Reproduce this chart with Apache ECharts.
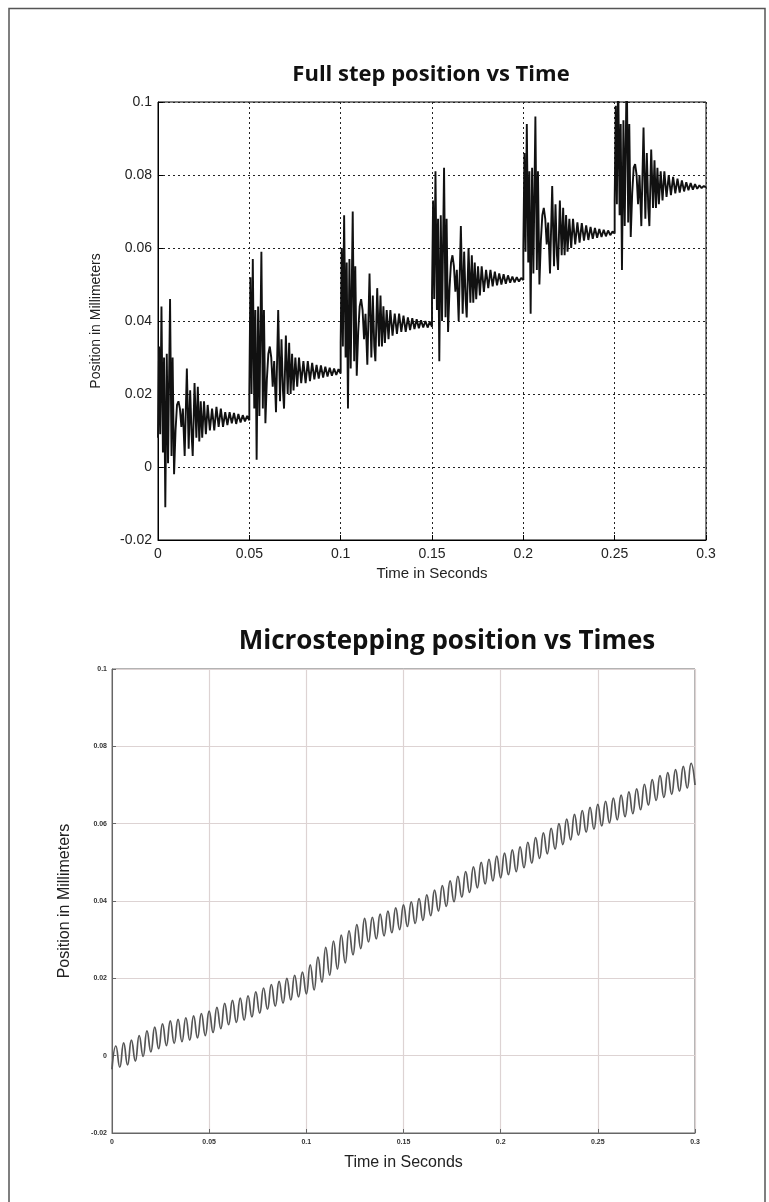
<!DOCTYPE html>
<html><head><meta charset="utf-8">
<script src="https://cdn.jsdelivr.net/npm/echarts@6/dist/echarts.min.js"></script>
<style>html,body{margin:0;padding:0;background:#fff}#c{width:769px;height:1202px}</style>
</head><body><div id="c"></div>
<script>
// ---------- Top chart: full step ----------
const stepStarts = [0, 0.05, 0.1, 0.15, 0.2, 0.25];
const stepOffsets = [0.0000,0.0006,0.0012,0.0019,0.0027,0.0033,0.0040,0.0048,0.0055,0.0066,0.0074,0.0080,0.0088,0.0096,0.0104,0.0112,0.0120,0.0128,0.0136,0.0146,0.0158,0.0168,0.0176,0.0184,0.0190,0.0200,0.0210,0.0218,0.0226,0.0234,0.0242,0.0252,0.0262,0.0272,0.0284,0.0296,0.0308,0.0320,0.0332,0.0344,0.0356,0.0368,0.0380,0.0392,0.0404,0.0416,0.0428,0.0440,0.0452,0.0464,0.0476,0.0488,0.0500];
const step1 = [0.008,0.033,0.009,0.044,0.004,0.030,-0.011,0.031,0.001,0.046,0.003,0.030,-0.002,0.010,0.017,0.018,0.016,0.011,0.016,0.003,0.027,0.005,0.021,0.009,0.003,0.023,0.008,0.022,0.007,0.018,0.008,0.018,0.009,0.017,0.010,0.016,0.010,0.0165,0.011,0.016,0.011,0.015,0.0115,0.015,0.012,0.0148,0.0118,0.0145,0.0122,0.0142,0.0125,0.014,0.0128];
const step2 = [0.021,0.052,0.020,0.057,0.016,0.043,0.002,0.044,0.014,0.059,0.016,0.043,0.012,0.024,0.031,0.033,0.030,0.022,0.029,0.015,0.043,0.018,0.035,0.021,0.016,0.036,0.020,0.034,0.020,0.031,0.021,0.030,0.022,0.030,0.023,0.029,0.023,0.029,0.0235,0.0285,0.024,0.028,0.0242,0.0278,0.0245,0.0275,0.0248,0.0272,0.025,0.027,0.0252,0.0268,0.0256];
const step3 = [0.034,0.060,0.033,0.069,0.030,0.056,0.016,0.057,0.027,0.070,0.029,0.055,0.025,0.037,0.044,0.046,0.043,0.035,0.042,0.028,0.053,0.030,0.047,0.033,0.029,0.049,0.033,0.047,0.033,0.044,0.034,0.043,0.035,0.043,0.036,0.042,0.0365,0.042,0.037,0.0415,0.037,0.041,0.0375,0.0408,0.0378,0.0405,0.038,0.0402,0.0382,0.040,0.0382,0.0398,0.0384];
const step4 = [0.047,0.073,0.046,0.081,0.043,0.068,0.029,0.069,0.040,0.082,0.041,0.068,0.037,0.049,0.056,0.058,0.055,0.048,0.054,0.040,0.066,0.042,0.059,0.046,0.041,0.060,0.045,0.058,0.045,0.056,0.046,0.055,0.047,0.055,0.048,0.054,0.049,0.054,0.0495,0.0535,0.0498,0.053,0.050,0.0528,0.0502,0.0525,0.0505,0.0522,0.0506,0.052,0.0508,0.0518,0.0512];
const step5 = [0.060,0.086,0.059,0.094,0.056,0.081,0.042,0.082,0.053,0.096,0.054,0.081,0.050,0.062,0.069,0.071,0.068,0.061,0.067,0.053,0.077,0.055,0.072,0.058,0.054,0.073,0.058,0.071,0.058,0.069,0.059,0.068,0.060,0.068,0.061,0.067,0.0615,0.0668,0.062,0.0662,0.0622,0.0658,0.0625,0.0655,0.0628,0.0652,0.063,0.065,0.0632,0.0648,0.0635,0.0645,0.064];
const step6 = [0.073,0.099,0.072,0.108,0.069,0.094,0.054,0.095,0.066,0.110,0.067,0.094,0.063,0.075,0.082,0.083,0.080,0.072,0.080,0.066,0.093,0.068,0.086,0.071,0.066,0.087,0.071,0.084,0.071,0.082,0.072,0.081,0.073,0.081,0.074,0.080,0.0745,0.0795,0.075,0.079,0.0752,0.0785,0.0755,0.078,0.0758,0.0778,0.076,0.0775,0.0762,0.0772,0.0764,0.077,0.0766];
const stepSegments = [step1, step2, step3, step4, step5, step6];

// ---------- Bottom chart: microstepping ----------
const microTimes = [0.000,0.002,0.004,0.006,0.008,0.010,0.012,0.014,0.016,0.018,0.020,0.022,0.024,0.026,0.028,0.030,0.032,0.034,0.036,0.038,0.040,0.042,0.044,0.046,0.048,0.050,0.052,0.054,0.056,0.058,0.060,0.062,0.064,0.066,0.068,0.070,0.072,0.074,0.076,0.078,0.080,0.082,0.084,0.086,0.088,0.090,0.092,0.094,0.096,0.098,0.100,0.102,0.104,0.106,0.108,0.110,0.112,0.114,0.116,0.118,0.120,0.122,0.124,0.126,0.128,0.130,0.132,0.134,0.136,0.138,0.140,0.142,0.144,0.146,0.148,0.150,0.152,0.154,0.156,0.158,0.160,0.162,0.164,0.166,0.168,0.170,0.172,0.174,0.176,0.178,0.180,0.182,0.184,0.186,0.188,0.190,0.192,0.194,0.196,0.198,0.200,0.202,0.204,0.206,0.208,0.210,0.212,0.214,0.216,0.218,0.220,0.222,0.224,0.226,0.228,0.230,0.232,0.234,0.236,0.238,0.240,0.242,0.244,0.246,0.248,0.250,0.252,0.254,0.256,0.258,0.260,0.262,0.264,0.266,0.268,0.270,0.272,0.274,0.276,0.278,0.280,0.282,0.284,0.286,0.288,0.290,0.292,0.294,0.296,0.298,0.300];
const microValues = [-0.0035,0.0025,-0.003,0.0033,-0.0024,0.004,-0.0014,0.0052,-0.0002,0.0064,0.001,0.0074,0.0018,0.0082,0.0026,0.009,0.0032,0.0094,0.0036,0.0098,0.004,0.0103,0.0046,0.0109,0.0052,0.0115,0.006,0.0125,0.007,0.0135,0.008,0.0143,0.0086,0.0149,0.0092,0.0155,0.010,0.0165,0.011,0.0175,0.012,0.0184,0.0128,0.0192,0.0136,0.020,0.0144,0.0208,0.0152,0.0216,0.016,0.0235,0.017,0.0255,0.019,0.028,0.0208,0.0296,0.0224,0.0312,0.024,0.0323,0.0261,0.0339,0.0277,0.0355,0.0294,0.0358,0.0302,0.0366,0.031,0.0374,0.0318,0.0382,0.0326,0.039,0.0334,0.0398,0.0342,0.0406,0.035,0.0416,0.0362,0.0428,0.0374,0.044,0.0386,0.0452,0.0398,0.0464,0.041,0.0476,0.0422,0.0488,0.0434,0.050,0.0444,0.0508,0.0452,0.0516,0.046,0.0524,0.0468,0.0532,0.0476,0.054,0.0486,0.0552,0.0498,0.0564,0.051,0.0576,0.0522,0.0588,0.0534,0.060,0.0546,0.0612,0.0558,0.0624,0.057,0.0634,0.0578,0.0642,0.0586,0.065,0.0594,0.0658,0.0602,0.0666,0.061,0.0674,0.0618,0.0682,0.0626,0.069,0.0636,0.0702,0.0648,0.0714,0.066,0.0724,0.0668,0.0732,0.0676,0.074,0.0684,0.0748,0.0692,0.0756,0.070];

const xTickInterval = 0.05;
const yTickInterval = 0.02;

const topData = [];
stepSegments.forEach((seg, k) => {
  seg.forEach((v, i) => topData.push([stepStarts[k] + stepOffsets[i], v]));
});
const microData = microTimes.map((t, i) => [t, microValues[i]]);

const chart = echarts.init(document.getElementById('c'), null, {renderer: 'canvas'});
const labelFont = {fontFamily: 'Liberation Sans', fontSize: 14, color: '#222'};
const smallFont = {fontFamily: 'Liberation Sans', fontSize: 7, fontWeight: 'bold', color: '#333'};

chart.setOption({
  backgroundColor: '#fff',
  animation: false,
  graphic: [
    {type: 'rect', shape: {x: 9, y: 8.5, width: 756, height: 1210}, style: {fill: 'none', stroke: '#555', lineWidth: 1.5}, silent: true},
    {type: 'text', x: 431, y: 75, style: {text: 'Full step position vs Time', font: 'bold 22px "Open Sans"', fill: '#111', textAlign: 'center', textVerticalAlign: 'middle'}},
    {type: 'text', x: 447, y: 642, style: {text: 'Microstepping position vs Times', font: 'bold 26px "Open Sans"', fill: '#111', textAlign: 'center', textVerticalAlign: 'middle'}}
  ],
  grid: [
    {left: 158, top: 102, width: 548, height: 438, show: true, borderColor: '#000', borderWidth: 1, backgroundColor: 'transparent'},
    {left: 112, top: 669, width: 583, height: 464, show: true, borderColor: '#666', borderWidth: 1, backgroundColor: 'transparent'}
  ],
  xAxis: [
    {gridIndex: 0, type: 'value', min: 0, max: 0.3, interval: xTickInterval,
     name: 'Time in Seconds', nameLocation: 'middle', nameGap: 26, nameTextStyle: {fontFamily: 'Liberation Sans', fontSize: 15, color: '#222'},
     axisLine: {onZero: false, lineStyle: {color: '#000', width: 1}}, axisTick: {inside: true, length: 5, lineStyle: {color: '#000'}},
     axisLabel: Object.assign({margin: 7}, labelFont),
     splitLine: {show: true, lineStyle: {color: '#222', type: [2, 3], width: 1}}},
    {gridIndex: 1, type: 'value', min: 0, max: 0.3, interval: xTickInterval,
     name: 'Time in Seconds', nameLocation: 'middle', nameGap: 22, nameTextStyle: {fontFamily: 'Liberation Sans', fontSize: 16, color: '#222'},
     axisLine: {onZero: false, lineStyle: {color: '#666', width: 1}}, axisTick: {inside: true, length: 4, lineStyle: {color: '#666'}},
     axisLabel: Object.assign({margin: 6}, smallFont),
     splitLine: {show: true, lineStyle: {color: '#ddd3d3', width: 1.2}}}
  ],
  yAxis: [
    {gridIndex: 0, type: 'value', min: -0.02, max: 0.1, interval: yTickInterval,
     name: 'Position in Millimeters', nameLocation: 'middle', nameGap: 55, nameRotate: 90, nameTextStyle: {fontFamily: 'Liberation Sans', fontSize: 14, color: '#222'},
     axisLine: {onZero: false, lineStyle: {color: '#000', width: 1}}, axisTick: {inside: true, length: 5, lineStyle: {color: '#000'}},
     axisLabel: Object.assign({margin: 6}, labelFont),
     splitLine: {show: true, lineStyle: {color: '#222', type: [2, 3], width: 1}}},
    {gridIndex: 1, type: 'value', min: -0.02, max: 0.1, interval: yTickInterval,
     name: 'Position in Millimeters', nameLocation: 'middle', nameGap: 39, nameRotate: 90, nameTextStyle: {fontFamily: 'Liberation Sans', fontSize: 16, color: '#222'},
     axisLine: {onZero: false, lineStyle: {color: '#666', width: 1}}, axisTick: {inside: true, length: 4, lineStyle: {color: '#666'}},
     axisLabel: Object.assign({margin: 5}, smallFont),
     splitLine: {show: true, lineStyle: {color: '#ddd3d3', width: 1.2}}}
  ],
  series: [
    {type: 'line', xAxisIndex: 0, yAxisIndex: 0, data: topData, showSymbol: false, clip: true,
     lineStyle: {color: '#111', width: 1.9}},
    {type: 'line', xAxisIndex: 1, yAxisIndex: 1, data: microData, showSymbol: false, clip: true, smooth: 0.5,
     lineStyle: {color: '#555', width: 1.7}}
  ]
});
</script></body></html>
